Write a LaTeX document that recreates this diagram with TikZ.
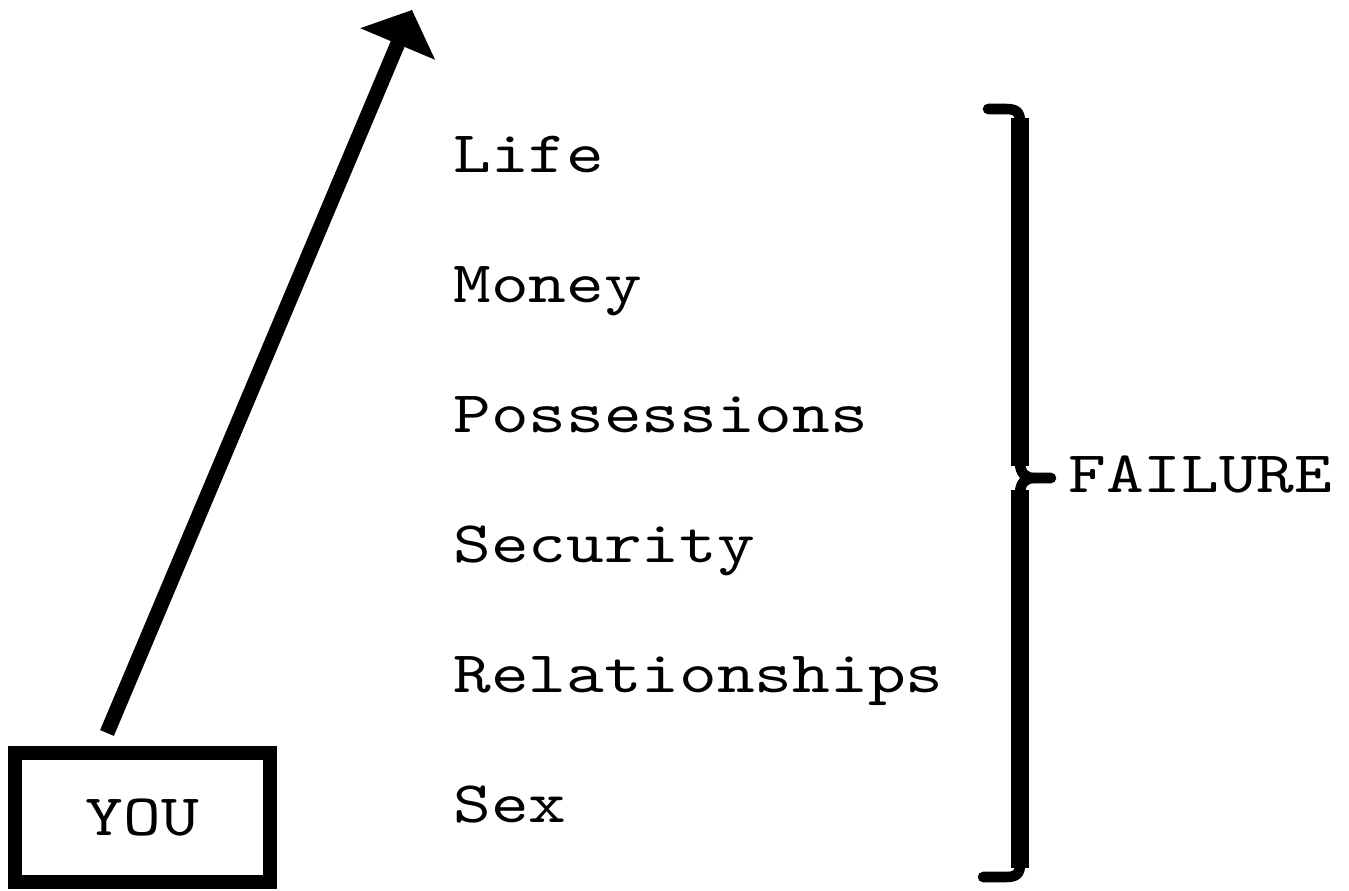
\documentclass[tikz,border=0pt]{standalone}
\usepackage{fontspec}
\newfontfamily\typewriter{lmmono10-regular.otf}[FakeStretch=1.22]
\usetikzlibrary{arrows.meta,positioning}
\tikzset{
  typed/.style={font=\typewriter\fontsize{33.5}{38}\selectfont,inner sep=0pt},
  item/.style={typed,anchor=base west},
  youbox/.style={typed,draw,line width=8.5pt,minimum width=5.1cm,minimum height=2.58cm},
  bar/.style={line width=10pt},
  hook/.style={line width=6pt,line cap=round},
}

\begin{document}
\begin{tikzpicture}[x=0.02cm,y=-0.02cm]
  \useasboundingbox (0,0) rectangle (1349,891);
  % the box and the arrow going up
  \node[youbox] (you) at (142.5,817.5) {YOU};
  \coordinate (foot) at (107,733);
  \coordinate (top) at (412,10);
  \draw[line width=8.5pt,-{Triangle[length=21pt,width=45pt]}] (foot) -- (top);
  % the list
  \node[item] (life) at (453,173) {Life};
  \node[item] (money) at (453,303) {Money};
  \node[item] (possessions) at (453,433) {Possessions};
  \node[item] (security) at (453,562) {Security};
  \node[item] (relationships) at (453,692) {Relationships};
  \node[item] (sex) at (453,822) {Sex};
  % brace
  \draw[bar] (1020,118) -- (1020,466);
  \draw[bar] (1020,490) -- (1020,868);
  \draw[hook] (988,109) -- (1006,109) .. controls (1016,109) and (1020,112) .. (1020,122);
  \draw[hook] (1020,462) .. controls (1020,474) and (1026,478) .. (1034,478) -- (1051,478);
  \draw[hook] (1020,494) .. controls (1020,482) and (1026,478) .. (1034,478);
  \draw[hook] (1020,864) .. controls (1020,874) and (1016,877) .. (1006,877) -- (983,877);
  \node[item] (failure) at (1068,493) {FAILURE};
\end{tikzpicture}
\end{document}
